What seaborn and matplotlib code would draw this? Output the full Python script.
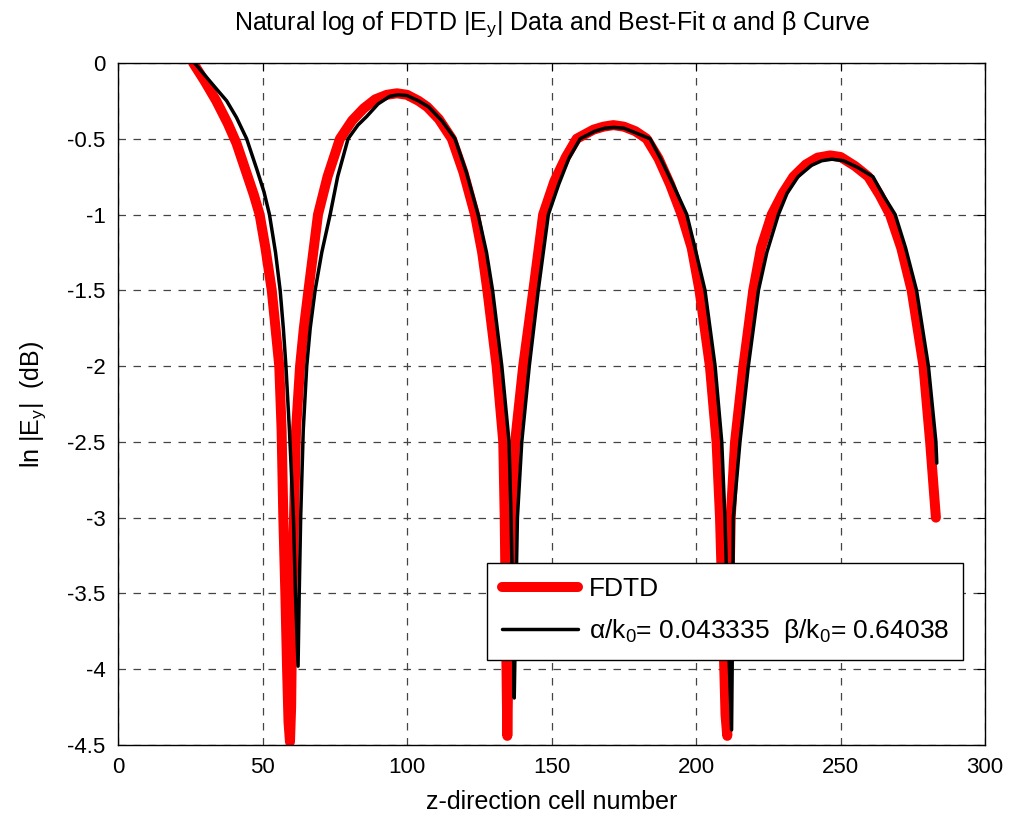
import numpy as np
import pandas as pd
import matplotlib
matplotlib.use("Agg")
import matplotlib.pyplot as plt
import seaborn as sns

# FDTD data
fdtd_z = [
    26, 30, 34, 38, 41, 44, 47, 49, 51, 53.2, 54.5, 55.8, 56.6, 57.2, 57.9,
    58.5, 59.0, 59.5, 59.9, 60.3, 60.9, 61.6, 63.0, 64.3, 65.9, 69.2, 72.5,
    76.8, 81, 85, 89, 93, 96.5, 100, 104, 107, 111, 115.5, 119.5, 123.5, 126,
    127.8, 131.0, 133.3, 133.8, 134.3, 134.7, 135.3, 136.2, 137.4, 140.2,
    143.7, 147.1, 151, 155, 158.7, 164.5, 168, 171.4, 175, 179, 182.9, 187,
    191, 195, 198.5, 201.2, 204.8, 207.1, 208.3, 209.5, 210.2, 210.8, 211.3,
    212.0, 213.5, 216.4, 219.8, 222.5, 226.2, 230, 233.7, 238, 242, 246.4,
    250, 255, 259.6, 263.5, 267.1, 271, 274.6, 278.7, 281.0, 283.0,
]
fdtd_ln = [
    0.0, -0.12, -0.25, -0.40, -0.53, -0.70, -0.87, -1.0, -1.22, -1.5, -1.75,
    -2.0, -2.42, -3.0, -3.5, -4.0, -4.35, -4.48, -4.25, -3.6, -3.0, -2.42,
    -2.0, -1.75, -1.5, -1.0, -0.75, -0.50, -0.38, -0.30, -0.24, -0.21, -0.20,
    -0.21, -0.25, -0.29, -0.37, -0.50, -0.72, -1.0, -1.25, -1.5, -2.0, -2.5,
    -3.0, -3.8, -4.44, -3.7, -3.0, -2.5, -2.0, -1.5, -1.0, -0.78, -0.62,
    -0.50, -0.44, -0.42, -0.41, -0.42, -0.45, -0.50, -0.63, -0.80, -1.0,
    -1.22, -1.5, -2.0, -2.5, -3.0, -3.8, -4.3, -4.44, -3.7, -3.0, -2.5, -2.0,
    -1.5, -1.22, -1.0, -0.86, -0.75, -0.67, -0.625, -0.61, -0.62, -0.68,
    -0.75, -0.87, -1.0, -1.22, -1.5, -2.0, -2.5, -3.0,
]

# best-fit curve
fit_z = [
    26.5, 30, 34, 37.6, 41, 44.5, 48, 50.5, 52.4, 54.5, 56.1, 57.2, 58.1,
    59.3, 60.7, 61.4, 62.3, 62.7, 63.2, 64.1, 65.3, 66.5, 68.2, 70.5, 73.4,
    76, 79.6, 83, 86, 90, 94, 97, 100, 104, 107.5, 112, 116.6, 120.5, 124.6,
    127.5, 129.6, 132.8, 135.3, 136.0, 136.6, 137.1, 137.6, 138.2, 139.7,
    142.3, 145.4, 148.9, 152.5, 156, 159.9, 165, 168.5, 171.5, 175, 179,
    184.1, 188, 192, 196.8, 200, 203.1, 206.6, 208.9, 210.0, 211.2, 212.3,
    212.6, 212.9, 215.2, 218.1, 221.6, 224.5, 228.5, 231.5, 235.3, 240,
    243.5, 247, 251, 256, 261.2, 265, 268.9, 272.5, 276.3, 280.4, 283.0,
    283.3,
]
fit_ln = [
    0.0, -0.08, -0.17, -0.25, -0.36, -0.50, -0.70, -0.85, -1.0, -1.25, -1.5,
    -1.75, -2.0, -2.42, -3.0, -3.5, -3.98, -3.5, -3.0, -2.42, -2.0, -1.75,
    -1.5, -1.25, -1.0, -0.75, -0.50, -0.41, -0.354, -0.27, -0.22, -0.21,
    -0.215, -0.25, -0.29, -0.38, -0.50, -0.72, -1.0, -1.25, -1.5, -2.0, -2.5,
    -3.0, -3.6, -4.19, -3.6, -3.0, -2.5, -2.0, -1.5, -1.0, -0.8, -0.63,
    -0.50, -0.45, -0.43, -0.425, -0.43, -0.46, -0.50, -0.64, -0.80, -1.0,
    -1.25, -1.5, -2.0, -2.5, -3.0, -3.8, -4.40, -3.8, -3.0, -2.5, -2.0, -1.5,
    -1.25, -1.0, -0.86, -0.75, -0.675, -0.645, -0.635, -0.645, -0.69, -0.75,
    -0.88, -1.0, -1.22, -1.5, -2.0, -2.5, -2.64,
]

fit_label = r"$\mathregular{\alpha}$/k$_\mathregular{0}$= 0.043335  $\mathregular{\beta}$/k$_\mathregular{0}$= 0.64038"

sns.set_theme(style="white")
plt.rcParams["font.family"] = ["Liberation Sans", "DejaVu Sans"]
plt.rcParams["mathtext.fontset"] = "custom"
plt.rcParams["mathtext.rm"] = "Liberation Sans"
plt.rcParams["mathtext.it"] = "Liberation Sans"
plt.rcParams["axes.unicode_minus"] = False
plt.rcParams["text.color"] = "black"
plt.rcParams["axes.labelcolor"] = "black"

fig = plt.figure(figsize=(10.13, 8.19), dpi=100)
ax = fig.add_axes([0.1165, 0.0904, 0.8559, 0.8327])

fdtd_df = pd.DataFrame({"z": fdtd_z, "ln": fdtd_ln})
fit_df = pd.DataFrame({"z": fit_z, "ln": fit_ln})

sns.lineplot(data=fdtd_df, x="z", y="ln", sort=False, estimator=None,
             color="#ff0000", linewidth=7.2, ax=ax, label="FDTD")
sns.lineplot(data=fit_df, x="z", y="ln", sort=False, estimator=None,
             color="black", linewidth=2.5, ax=ax, label=fit_label)

ax.set_xlim(0, 300)
ax.set_ylim(-4.5, 0)
ax.set_xticks(np.arange(0, 301, 50))
ax.set_yticks(np.arange(-4.5, 0.01, 0.5))
ax.set_yticklabels(["%g" % v for v in np.arange(-4.5, 0.01, 0.5)])

ax.grid(True, color="#444444", linestyle=(0, (6, 6)), linewidth=0.9)
for s in ax.spines.values():
    s.set_color("black")
    s.set_linewidth(1.0)
ax.tick_params(direction="in", top=True, right=True, length=6, width=0.8,
               labelsize=16, colors="black", pad=9)

ax.set_title(r"Natural log of FDTD |E$_\mathregular{y}$| Data and Best-Fit α and β Curve",
             fontsize=18, pad=24, color="black")
ax.set_xlabel("z-direction cell number", fontsize=18, labelpad=8, color="black")
ax.set_ylabel(r"ln |E$_\mathregular{y}$|  (dB)", fontsize=18, labelpad=14, color="black")

leg = ax.legend(loc="upper left", bbox_to_anchor=(0.4256, 0.2669),
                borderaxespad=0, fontsize=19, handlelength=2.9,
                handletextpad=0.4, frameon=True, fancybox=False,
                edgecolor="black", framealpha=1, labelspacing=0.6,
                borderpad=0.55)
leg.get_frame().set_linewidth(1.0)
for t in leg.get_texts():
    t.set_color("black")

plt.savefig("out.png", dpi=100)
